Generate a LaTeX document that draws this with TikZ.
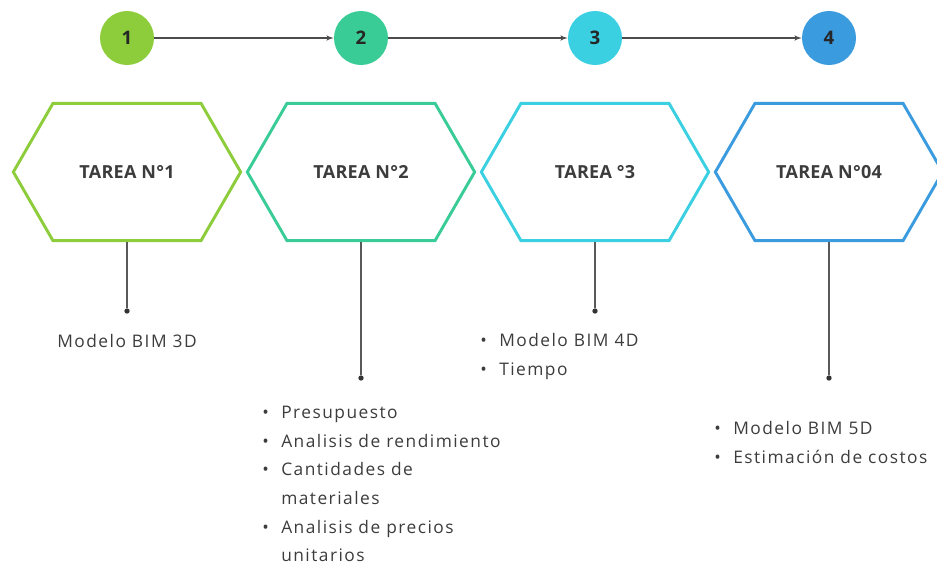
\documentclass[tikz,border=0pt]{standalone}
\usepackage{fontspec}
\setmainfont{Open Sans}
\newfontfamily\cuerpo{Open Sans}[LetterSpace=8.5]
\newfontfamily\titulo{Open Sans}[LetterSpace=1.5]
\usetikzlibrary{arrows,shapes.symbols}
\definecolor{verde}{RGB}{141,204,58}
\definecolor{menta}{RGB}{58,204,150}
\definecolor{cian}{RGB}{58,208,226}
\definecolor{azul}{RGB}{58,155,222}
\definecolor{tinta}{RGB}{60,60,60}
\newcommand{\itm}{\makebox[14.25pt][l]{\textbullet}}
\newcommand{\sig}{\hspace*{14.25pt}}

\begin{document}
\begin{tikzpicture}
	[x=0.75pt,y=-0.75pt,
	paso/.style={circle,minimum size=40.5pt,inner sep=0pt,text=black!85,font=\bfseries\fontsize{14}{16}\selectfont},
	tarea/.style={shape=signal,signal to=west and east,signal pointer angle=120,draw=#1,line width=2.2pt,
		minimum width=170.5pt,minimum height=103pt,inner sep=0pt,text=tinta,font=\titulo\bfseries\fontsize{13.5}{16}\selectfont},
	edge/.style={->,>=latex',draw=black!70,line width=0.9pt},
	tallo/.style={draw=black!65,line width=1.1pt},
	punto/.style={circle,fill=black!80,inner sep=0pt,minimum size=4pt},
	lista/.style={anchor=north west,align=left,inner sep=0pt,text=tinta,font=\cuerpo\fontsize{13}{21.5}\selectfont}]
	\useasboundingbox (0,0) rectangle (937,568);
	
	\node[paso,fill=verde] (c1) at (127,38) {1};
	\node[paso,fill=menta] (c2) at (361,38) {2};
	\node[paso,fill=cian]  (c3) at (595,38) {3};
	\node[paso,fill=azul]  (c4) at (829,38) {4};
	
	\foreach \from/\to in {c1/c2,c2/c3,c3/c4}
	\draw[edge] (\from) -- (\to);
	
	\node[tarea=verde] (t1) at (127,172) {TAREA N°1};
	\node[tarea=menta] (t2) at (361,172) {TAREA N°2};
	\node[tarea=cian]  (t3) at (595,172) {TAREA °3};
	\node[tarea=azul]  (t4) at (829,172) {TAREA N°04};
	
	\node[punto] (d1) at (127,311) {};
	\node[punto] (d2) at (361,378) {};
	\node[punto] (d3) at (595,311) {};
	\node[punto] (d4) at (829,378) {};
	
	\foreach \n in {1,2,3,4}
	\draw[tallo] (t\n.south) -- (d\n);
	
	\node[lista,anchor=center] (l1) at (127,341) {Modelo BIM 3D};
	\node[lista] (l2) at (262,406) {\itm Presupuesto\\ \itm Analisis de rendimiento\\ \itm Cantidades de\\ \sig materiales\\ \itm Analisis de precios\\ \sig unitarios};
	\node[lista] (l3) at (480,333) {\itm Modelo BIM 4D\\ \itm Tiempo};
	\node[lista] (l4) at (714,421) {\itm Modelo BIM 5D\\ \itm Estimación de costos};
\end{tikzpicture}
\end{document}
